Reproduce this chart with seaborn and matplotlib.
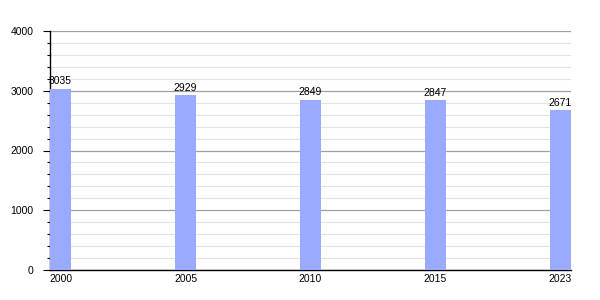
import matplotlib
matplotlib.use("Agg")
import matplotlib.pyplot as plt
import seaborn as sns
import pandas as pd
from matplotlib.ticker import MultipleLocator

years = ["2000", "2005", "2010", "2015", "2023"]
population = [3035, 2929, 2849, 2847, 2671]

df = pd.DataFrame({"year": years, "population": population})

sns.set_theme(style="white")
plt.rcParams["font.family"] = ["Liberation Sans", "DejaVu Sans"]
plt.rcParams["text.color"] = "black"
plt.rcParams["xtick.color"] = "black"
plt.rcParams["ytick.color"] = "black"

fig = plt.figure(figsize=(6, 3), dpi=100)
ax = fig.add_axes([50/600, 1 - 270/300, 521/600, 239/300])

sns.barplot(data=df, x="year", y="population", color="#99aaff", saturation=1,
            width=0.168, ax=ax, zorder=3)
for p in ax.patches:
    p.set_edgecolor("none")

ax.set_xlim(-0.084, 4.084)
ax.set_ylim(0, 4000)
ax.yaxis.set_major_locator(MultipleLocator(1000))
ax.yaxis.set_minor_locator(MultipleLocator(200))
ax.grid(which="major", axis="y", color="#a0a0a0", linewidth=0.9, zorder=0)
ax.grid(which="minor", axis="y", color="#e2e2e2", linewidth=0.8, zorder=0)
ax.set_axisbelow(True)

for s in ["top", "right"]:
    ax.spines[s].set_visible(False)
for s in ["left", "bottom"]:
    ax.spines[s].set_color("black")
    ax.spines[s].set_linewidth(1.0)

ax.tick_params(axis="y", which="major", direction="out", length=5, width=0.8,
               color="black", labelcolor="black", left=True, labelsize=7.5, pad=7)
ax.tick_params(axis="y", which="minor", direction="out", length=2.5, width=0.8,
               color="black", left=True)
ax.tick_params(axis="x", which="both", length=0, labelsize=7.5, pad=3,
               labelcolor="black")
ax.set_xlabel("")
ax.set_ylabel("")

for i, v in enumerate(population):
    ax.text(i, v + 40, str(v), ha="center", va="bottom", fontsize=7.5, color="black")

fig.savefig("out.png", dpi=100)
